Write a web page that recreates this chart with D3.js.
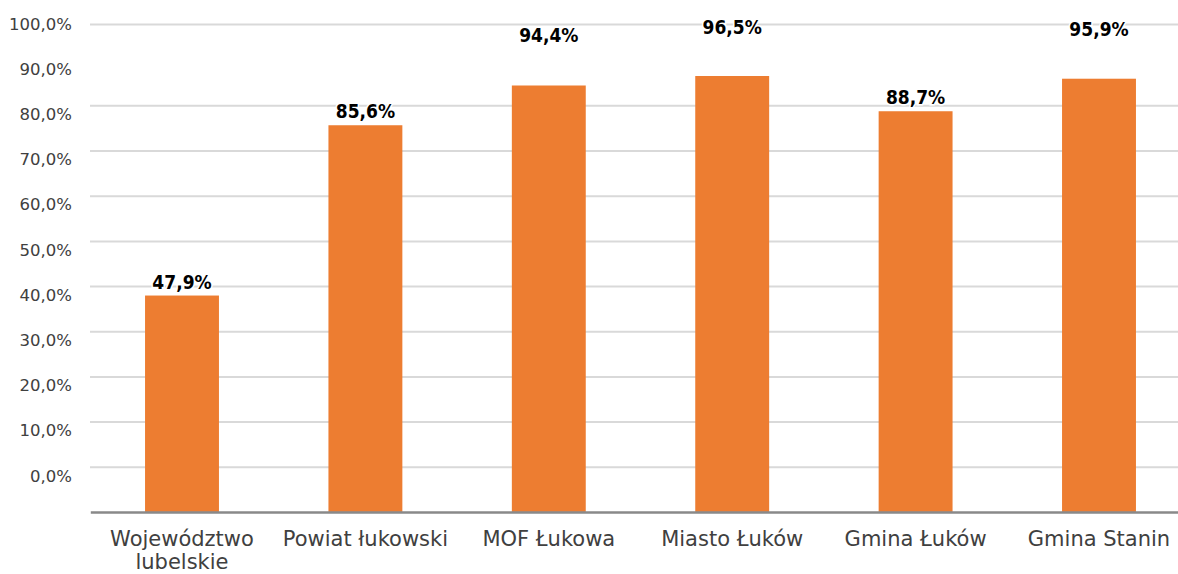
<!DOCTYPE html>
<html>
<head>
<meta charset="utf-8">
<script src="https://cdn.jsdelivr.net/npm/d3@7"></script>
<style>
  body { margin: 0; background: #fff; }
  svg { display: block; }
</style>
</head>
<body>
<svg id="chart" width="1178" height="574"></svg>
<script>
"use strict";

// categories and values
var categories = ["Województwo lubelskie", "Powiat łukowski", "MOF Łukowa", "Miasto Łuków", "Gmina Łuków", "Gmina Stanin"];
var values = [47.9, 85.6, 94.4, 96.5, 88.7, 95.9];
var valueLabels = ["47,9%", "85,6%", "94,4%", "96,5%", "88,7%", "95,9%"];
var tickValues = [0, 10, 20, 30, 40, 50, 60, 70, 80, 90, 100];
var tickLabels = ["0,0%", "10,0%", "20,0%", "30,0%", "40,0%", "50,0%", "60,0%", "70,0%", "80,0%", "90,0%", "100,0%"];
var gridValues = [10, 20, 30, 40, 50, 60, 70, 80, 90, 108];

// how far each value label sits above its bar (px)
var labelGap = [7, 7, 43, 42, 7, 43];

var W = 1178, H = 574;
var left = 90;
var svg = d3.select("#chart");

var x = d3.scaleBand()
  .domain(categories)
  .range([90.3, 1190.7])
  .paddingInner(0.597)
  .paddingOuter(0.2985);

var y = d3.scaleLinear().domain([0, 100]).range([511.9, 60.2]);

// the axis labels sit one step above the 0 of the bars, a bit under each line
var yLabel = d3.scaleLinear().domain([0, 100]).range([y(10) + 9, y(110) + 9]);

// grid
var grid = svg.append("g")
  .attr("transform", "translate(" + left + ",0)")
  .call(d3.axisLeft(y).tickValues(gridValues).tickSize(-(W - left)).tickFormat(""));
grid.select(".domain").remove();
grid.selectAll("line").attr("stroke", "#d9d9d9").attr("stroke-width", 2);

// y labels
var yAxis = svg.append("g")
  .attr("transform", "translate(72,0)")
  .call(d3.axisLeft(yLabel).tickValues(tickValues).tickSize(0).tickPadding(0)
    .tickFormat(function (d, i) { return tickLabels[i]; }));
yAxis.select(".domain").remove();
yAxis.selectAll("text")
  .attr("font-family", "'DejaVu Sans', Verdana, sans-serif")
  .attr("font-size", 16.5)
  .attr("fill", "#404040");

// bars
svg.append("g").selectAll("rect")
  .data(values)
  .enter()
  .append("rect")
  .attr("x", function (d, i) { return x(categories[i]); })
  .attr("width", x.bandwidth())
  .attr("y", function (d) { return y(d); })
  .attr("height", function (d) { return y(0) - y(d); })
  .attr("fill", "#ED7D31");

// x axis
var xAxis = svg.append("g")
  .attr("transform", "translate(0," + y(0) + ")")
  .call(d3.axisBottom(x).tickSize(0).tickSizeOuter(0));
xAxis.select(".domain").attr("stroke", "#898989").attr("stroke-width", 2.5);
xAxis.selectAll("text")
  .attr("font-family", "'DejaVu Sans', Verdana, sans-serif")
  .attr("font-size", 21)
  .attr("fill", "#404040")
  .attr("dy", null)
  .attr("y", 34)
  .each(function (d) {
    // wrap long names over two lines
    var text = d3.select(this);
    var words = d.split(" ");
    text.text(null);
    var line = [];
    var tspan = text.append("tspan").attr("x", 0).attr("dy", 0);
    words.forEach(function (w) {
      line.push(w);
      tspan.text(line.join(" "));
      if (tspan.node().getComputedTextLength() > x.step() - 10 && line.length > 1) {
        line.pop();
        tspan.text(line.join(" "));
        line = [w];
        tspan = text.append("tspan").attr("x", 0).attr("dy", "1.1em").text(w);
      }
    });
  });

// value labels
svg.append("g").selectAll("text")
  .data(values)
  .enter()
  .append("text")
  .attr("x", function (d, i) { return x(categories[i]) + x.bandwidth() / 2; })
  .attr("y", function (d, i) { return y(d) - labelGap[i]; })
  .attr("text-anchor", "middle")
  .attr("font-family", "'DejaVu Sans Condensed', 'DejaVu Sans', sans-serif")
  .attr("font-weight", "bold")
  .attr("font-size", 19)
  .attr("fill", "#000")
  .attr("stroke", "#fff")
  .attr("stroke-width", 3)
  .attr("paint-order", "stroke")
  .text(function (d, i) { return valueLabels[i]; });
</script>
</body>
</html>
